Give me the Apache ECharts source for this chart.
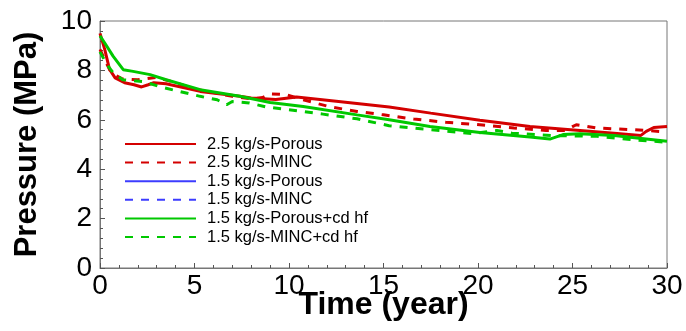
<!DOCTYPE html>
<html>
<head>
<meta charset="utf-8">
<script src="https://cdn.jsdelivr.net/npm/echarts@6/dist/echarts.min.js"></script>
<style>
    html, body { margin: 0; padding: 0; background: #fff; }
    #chart { width: 686px; height: 331px; }
</style>
</head>
<body>
<div id="chart"></div>
<script>
// series names as in the legend
var names = ['2.5 kg/s-Porous', '2.5 kg/s-MINC', '1.5 kg/s-Porous', '1.5 kg/s-MINC',
    '1.5 kg/s-Porous+cd hf', '1.5 kg/s-MINC+cd hf'];

// time (year) / pressure (MPa)
var porous25T = [0, 0.25, 0.5, 0.8, 1.3, 1.8, 2.2, 2.55, 2.85, 3.5, 5.3, 7.4, 8, 9.3, 10.4, 12.5, 15.3, 17.5, 20.1, 22.75, 25.4, 27.2, 28.6, 28.9, 29.3, 30];
var porous25P = [9.5, 8.85, 8.05, 7.7, 7.5, 7.42, 7.33, 7.42, 7.5, 7.46, 7.15, 6.95, 6.88, 6.82, 6.92, 6.75, 6.52, 6.27, 5.98, 5.73, 5.57, 5.46, 5.36, 5.53, 5.69, 5.73];

var minc25T = [0, 0.3, 0.6, 1.2, 2, 3, 4, 5, 6, 7, 8, 8.6, 9, 9.8, 10.7, 12.2, 13.6, 15, 16.6, 18.3, 20.1, 21.9, 23.6, 24.6, 25.2, 26.3, 28.2, 29.6, 30];
var minc25P = [8.85, 8.35, 7.9, 7.65, 7.62, 7.72, 7.5, 7.25, 7.1, 6.95, 6.85, 6.9, 7.05, 7.03, 6.82, 6.52, 6.34, 6.2, 6.03, 5.9, 5.8, 5.67, 5.57, 5.57, 5.8, 5.67, 5.6, 5.53, 5.49];

// 1.5 kg/s runs without cd hf: no visible curve in the picture
var porous15T = [];
var porous15P = [];
var minc15T = [];
var minc15P = [];

var porousHfT = [0, 0.26, 0.7, 1.23, 1.75, 2.65, 3.5, 5.3, 7.4, 9, 10.75, 13.6, 15.3, 17.46, 20.1, 22.75, 23.8, 24.5, 25.4, 27.2, 28.9, 30];
var porousHfP = [9.4, 9.1, 8.57, 8.03, 7.96, 7.83, 7.62, 7.22, 6.95, 6.7, 6.54, 6.2, 6.0, 5.73, 5.49, 5.3, 5.22, 5.4, 5.44, 5.36, 5.22, 5.13];

var mincHfT = [0, 0.25, 0.44, 0.7, 1.2, 2.3, 3.2, 4.2, 5.3, 6.2, 6.7, 7.0, 7.9, 8.8, 10, 11.8, 13.6, 15.3, 17.46, 19.75, 21, 21.8, 24, 26.3, 28.2, 30];
var mincHfP = [8.75, 8.4, 8.16, 7.9, 7.62, 7.55, 7.33, 7.15, 6.95, 6.81, 6.61, 6.74, 6.68, 6.52, 6.41, 6.23, 6.04, 5.76, 5.6, 5.44, 5.57, 5.46, 5.36, 5.33, 5.19, 5.09];

function pairs(t, p) {
    var out = [];
    for (var i = 0; i < t.length; i++) {
        out.push([t[i], p[i]]);
    }
    return out;
}

var red = '#d40000', blue = '#3c3cff', green = '#00c800';
var font = '"Liberation Sans", Arial, sans-serif';

function line(name, t, p, color, type) {
    return {
        name: name,
        type: 'line',
        symbol: 'none',
        data: pairs(t, p),
        lineStyle: { color: color, width: 3, type: type },
        itemStyle: { color: color }
    };
}

var myChart = echarts.init(document.getElementById('chart'));
var option = {
    animation: false,
    grid: {
        left: 100, right: 19, top: 21, bottom: 63,
        outerBoundsMode: 'none',
        show: true, borderColor: '#777', borderWidth: 1
    },
    legend: {
        orient: 'vertical',
        left: 124,
        top: 135.5,
        padding: 0,
        itemWidth: 71,
        itemHeight: 14,
        itemGap: 1.6,
        // hide the dot ECharts puts on line-series legend icons
        itemStyle: { opacity: 0 },
        textStyle: { fontFamily: font, fontSize: 16.5, lineHeight: 16, color: '#000', padding: [0, 0, 0, 6] },
        data: names
    },
    xAxis: {
        type: 'value',
        min: 0, max: 30, interval: 5,
        name: 'Time (year)',
        nameLocation: 'middle',
        nameGap: 21,
        nameMoveOverlap: false,
        nameTextStyle: { fontFamily: font, fontSize: 32, fontWeight: 'bold', color: '#000' },
        axisLine: { lineStyle: { color: '#777' } },
        axisTick: { inside: true, length: 5, lineStyle: { color: '#555' } },
        minorTick: { show: true, splitNumber: 5, length: 3, lineStyle: { color: '#555' } },
        axisLabel: { fontFamily: font, fontSize: 28, color: '#000', margin: 4 },
        splitLine: { show: false }
    },
    yAxis: {
        type: 'value',
        min: 0, max: 10, interval: 2,
        name: 'Pressure (MPa)',
        nameLocation: 'middle',
        nameGap: 57,
        nameMoveOverlap: false,
        nameTextStyle: { fontFamily: font, fontSize: 31, fontWeight: 'bold', color: '#000' },
        axisLine: { show: true, lineStyle: { color: '#777' } },
        axisTick: { show: true, inside: true, length: 5, lineStyle: { color: '#555' } },
        minorTick: { show: true, splitNumber: 5, length: 3, lineStyle: { color: '#555' } },
        axisLabel: { fontFamily: font, fontSize: 28, color: '#000', margin: 8 },
        splitLine: { show: false }
    },
    series: [
        line(names[0], porous25T, porous25P, red, 'solid'),
        line(names[1], minc25T, minc25P, red, [8, 8]),
        line(names[2], porous15T, porous15P, blue, 'solid'),
        line(names[3], minc15T, minc15P, blue, [8, 8]),
        line(names[4], porousHfT, porousHfP, green, 'solid'),
        line(names[5], mincHfT, mincHfP, green, [8, 8])
    ]
};
myChart.setOption(option);
</script>
</body>
</html>
